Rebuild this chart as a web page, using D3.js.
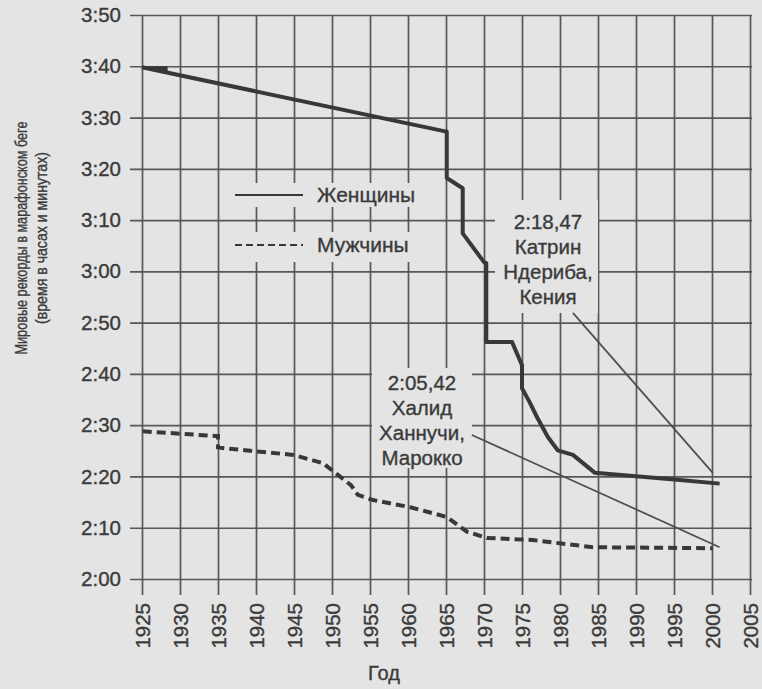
<!DOCTYPE html>
<html>
<head>
<meta charset="utf-8">
<script src="https://cdn.jsdelivr.net/npm/d3@7"></script>
<style>
  html, body { margin: 0; padding: 0; background: #e4e4e4; }
  svg { display: block; }
</style>
</head>
<body>
<svg id="chart" width="762" height="689"></svg>
<script>
// ---------- data ----------
const yearTicks = [1925,1930,1935,1940,1945,1950,1955,1960,1965,1970,1975,1980,1985,1990,1995,2000,2005];
const timeTicks = [120,130,140,150,160,170,180,190,200,210,220,230]; // minutes
const timeTickLabels = ["2:00","2:10","2:20","2:30","2:40","2:50","3:00","3:10","3:20","3:30","3:40","3:50"];

// Women world record progression (year, minutes)
const womenYears = [1925, 1964.9, 1965.1, 1965.1, 1967.2, 1967.2, 1970.0, 1970.3, 1970.3, 1973.7, 1975.0, 1975.0, 1976.0, 1977.0, 1978.4, 1979.7, 1981.7, 1984.6, 1995.8, 2001.0];
const womenTimes = [219.8, 207.3, 207.3, 198.2, 196.2, 187.4, 181.8, 181.6, 166.2, 166.2, 161.7, 157.2, 154.5, 151.5, 147.7, 145.1, 144.2, 140.7, 139.3, 138.6];
// small wedge at the start of the women's line (year, minutes)
const womenStartYears = [1925, 1928.3, 1928.3];
const womenStartTimes = [219.9, 219.9, 218.9];

// Men world record progression (year, minutes)
const menYears = [1925.1, 1934.6, 1935.0, 1935.0, 1935.9, 1944.9, 1948.8, 1950.1, 1952.5, 1953.4, 1955.4, 1960.3, 1965.1, 1967.8, 1970.4, 1976.4, 1984.3, 2000.1];
const menTimes = [148.8, 147.9, 147.9, 145.7, 145.5, 144.2, 142.6, 141.1, 138.3, 136.4, 135.4, 134.0, 132.1, 129.2, 128.0, 127.6, 126.2, 126.0];

const legendLabels = ["Женщины", "Мужчины"];
const womenNote = ["2:18,47", "Катрин", "Ндериба,", "Кения"];
const menNote = ["2:05,42", "Халид", "Ханнучи,", "Марокко"];
// leader lines (year, minutes) from label to record point
const womenLeader = [[1981.7, 171.9], [2000.1, 140.7]];
const menLeader = [[1968.4, 148.1], [2001.0, 126.2]];

const yTitle = ["Мировые рекорды в марафонском беге", "(время в часах и минутах)"];
const xTitle = "Год";

// ---------- chart ----------
const bg = "#e4e4e4";
const gridColor = "#575757";
const ink = "#383838";
const textInk = "#3a3a3a";
const font = "'Liberation Sans', Arial, sans-serif";

const svg = d3.select("#chart");
const x = d3.scaleLinear().domain([1925, 2005]).range([142, 750]);
const y = d3.scaleLinear().domain([120, 230]).range([579, 15]);
const gridLeft = 130, gridBottom = 595;

function styleText(sel, size) {
  sel.attr("font-family", font).attr("font-size", size)
    .attr("fill", textInk).attr("stroke", textInk).attr("stroke-width", 0.35);
}

// horizontal grid + y labels
const yAxis = d3.axisLeft(y)
  .tickValues(timeTicks)
  .tickFormat((d, i) => timeTickLabels[i])
  .tickSize(-(x(2005) + 2 - gridLeft))
  .tickPadding(9);
const gy = svg.append("g").attr("transform", `translate(${gridLeft},0)`).call(yAxis);
gy.select(".domain").remove();
gy.selectAll("line").attr("stroke", gridColor).attr("stroke-width", 1.7);
styleText(gy.selectAll("text"), 20.5);

// vertical grid + x labels
const xAxis = d3.axisBottom(x)
  .tickValues(yearTicks)
  .tickFormat(d3.format("d"))
  .tickSize(-(gridBottom - y(230)))
  .tickPadding(6);
const gx = svg.append("g").attr("transform", `translate(0,${gridBottom})`).call(xAxis);
gx.select(".domain").remove();
gx.selectAll("line").attr("stroke", gridColor).attr("stroke-width", 1.7);
styleText(gx.selectAll("text"), 20.5);
gx.selectAll("text")
  .attr("transform", "rotate(-90)")
  .attr("text-anchor", "end")
  .attr("x", -8)
  .attr("y", 0)
  .attr("dy", "0.35em");

// background boxes hiding grid behind legend / notes
const boxes = [
  [228, 183, 190, 24],
  [228, 232, 190, 30],
  [495, 200, 103, 113],
  [372, 368, 100, 100]
];
svg.append("g").selectAll("rect").data(boxes).join("rect")
  .attr("x", d => d[0]).attr("y", d => d[1])
  .attr("width", d => d[2]).attr("height", d => d[3])
  .attr("fill", bg);

// leader lines
const line = d3.line().x(d => x(d[0])).y(d => y(d[1]));
[womenLeader, menLeader].forEach(l => {
  svg.append("path").attr("d", line(l))
    .attr("fill", "none").attr("stroke", "#4c4c4c").attr("stroke-width", 1.7);
});

// series
const women = womenYears.map((yr, i) => [yr, womenTimes[i]]);
const men = menYears.map((yr, i) => [yr, menTimes[i]]);
svg.append("path").attr("d", line(women))
  .attr("fill", "none").attr("stroke", ink).attr("stroke-width", 4)
  .attr("stroke-linejoin", "round");
svg.append("path")
  .attr("d", line(womenStartYears.map((yr, i) => [yr, womenStartTimes[i]])) + "Z")
  .attr("fill", ink).attr("stroke", ink).attr("stroke-width", 1);
svg.append("path").attr("d", line(men))
  .attr("fill", "none").attr("stroke", ink).attr("stroke-width", 4)
  .attr("stroke-dasharray", "9,5");

// legend
const lg = svg.append("g");
lg.append("line").attr("x1", 235).attr("x2", 303).attr("y1", 195).attr("y2", 195)
  .attr("stroke", ink).attr("stroke-width", 2.2);
lg.append("line").attr("x1", 235).attr("x2", 303).attr("y1", 245).attr("y2", 245)
  .attr("stroke", ink).attr("stroke-width", 2.2).attr("stroke-dasharray", "7,4");
styleText(lg.selectAll("text").data(legendLabels).join("text")
  .attr("x", 317).attr("y", (d, i) => 195 + i * 50)
  .attr("dy", "0.35em").text(d => d), 21);

// notes
function note(lines, cx, cy0) {
  styleText(svg.append("g").selectAll("text").data(lines).join("text")
    .attr("x", cx).attr("y", (d, i) => cy0 + i * 25)
    .attr("dy", "0.35em").attr("text-anchor", "middle")
    .text(d => d), 20.5);
}
note(womenNote, 548, 222);
note(menNote, 422, 383);

// axis titles
const titleLens = [233, 172];
styleText(svg.append("g").selectAll("text").data(yTitle).join("text")
  .attr("transform", (d, i) => `translate(${21 + i * 20},238) rotate(-90)`)
  .attr("text-anchor", "middle").attr("dy", "0.35em")
  .attr("textLength", (d, i) => titleLens[i])
  .attr("lengthAdjust", "spacingAndGlyphs")
  .text(d => d), 16.5);
styleText(svg.append("text").attr("x", 384).attr("y", 680)
  .attr("text-anchor", "middle").text(xTitle), 20);
</script>
</body>
</html>
